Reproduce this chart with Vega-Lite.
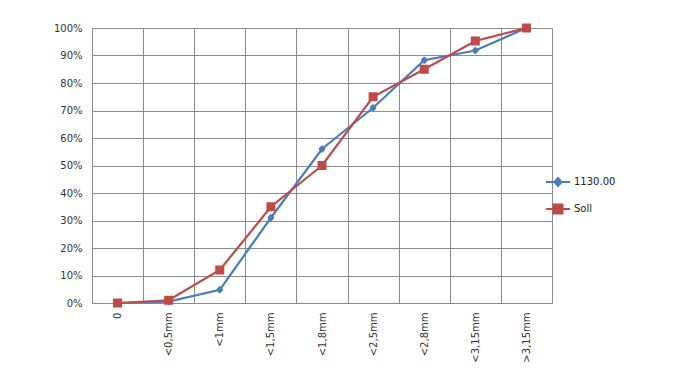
{
  "$schema": "https://vega.github.io/schema/vega-lite/v6.json",
  "width": 460,
  "height": 275,
  "autosize": "none",
  "padding": {"left": 92, "top": 28, "right": 142, "bottom": 72},
  "background": "white",
  "config": {
    "font": "DejaVu Sans",
    "view": {"stroke": "#8c8c8c", "strokeWidth": 1},
    "axis": {"labelFont": "DejaVu Sans", "labelColor": "#333333", "labelFontSize": 10}
  },
  "data": {
    "values": [
      {"cat": "0", "series": "1130.00", "v": 0},
      {"cat": "<0,5mm", "series": "1130.00", "v": 0.5},
      {"cat": "<1mm", "series": "1130.00", "v": 4.8},
      {"cat": "<1,5mm", "series": "1130.00", "v": 31},
      {"cat": "<1,8mm", "series": "1130.00", "v": 56},
      {"cat": "<2,5mm", "series": "1130.00", "v": 71},
      {"cat": "<2,8mm", "series": "1130.00", "v": 88.3},
      {"cat": "<3,15mm", "series": "1130.00", "v": 91.8},
      {"cat": ">3,15mm", "series": "1130.00", "v": 100},
      {"cat": "0", "series": "Soll", "v": 0},
      {"cat": "<0,5mm", "series": "Soll", "v": 1},
      {"cat": "<1mm", "series": "Soll", "v": 12},
      {"cat": "<1,5mm", "series": "Soll", "v": 35},
      {"cat": "<1,8mm", "series": "Soll", "v": 50},
      {"cat": "<2,5mm", "series": "Soll", "v": 75},
      {"cat": "<2,8mm", "series": "Soll", "v": 85},
      {"cat": "<3,15mm", "series": "Soll", "v": 95.3},
      {"cat": ">3,15mm", "series": "Soll", "v": 100}
    ]
  },
  "encoding": {
    "x": {
      "field": "cat",
      "type": "ordinal",
      "sort": null,
      "scale": {"paddingInner": 0, "paddingOuter": 0},
      "axis": {
        "title": null,
        "labelAngle": -90,
        "labelPadding": 9,
        "tickBand": "extent",
        "ticks": false,
        "grid": true,
        "gridColor": "#8c8c8c",
        "gridOpacity": 1,
        "domainColor": "#8c8c8c"
      }
    },
    "y": {
      "field": "v",
      "type": "quantitative",
      "scale": {"domain": [0, 100], "nice": false},
      "axis": {
        "title": null,
        "values": [0, 10, 20, 30, 40, 50, 60, 70, 80, 90, 100],
        "labelExpr": "datum.value + '%'",
        "ticks": false,
        "labelPadding": 10,
        "grid": true,
        "gridColor": "#8c8c8c",
        "gridOpacity": 1,
        "domainColor": "#8c8c8c"
      }
    },
    "color": {
      "field": "series",
      "type": "nominal",
      "scale": {"domain": ["1130.00", "Soll"], "range": ["#4a7ebb", "#be4b48"]},
      "legend": {
        "title": null,
        "orient": "none",
        "legendX": 460,
        "legendY": 148,
        "symbolSize": 100,
        "symbolStrokeWidth": 2,
        "labelOffset": 10,
        "rowPadding": 10,
        "labelFontSize": 10,
        "labelColor": "#222222",
        "labelFont": "DejaVu Sans",
        "encode": {
          "symbols": {
            "update": {
              "stroke": {"scale": "color", "field": "value"},
              "strokeWidth": {"value": 2}
            }
          }
        }
      }
    },
    "shape": {
      "field": "series",
      "type": "nominal",
      "scale": {
        "domain": ["1130.00", "Soll"],
        "range": [
          "M-2.4,0H2.4M0,-0.8L0.7,0L0,0.8L-0.7,0Z",
          "M-2.4,0H2.4M-0.9,-0.9H0.9V0.9H-0.9Z"
        ]
      },
      "legend": {
        "title": null,
        "orient": "none",
        "legendX": 460,
        "legendY": 148,
        "symbolSize": 100,
        "labelOffset": 10,
        "rowPadding": 10,
        "labelFontSize": 10,
        "labelColor": "#222222",
        "labelFont": "DejaVu Sans",
        "encode": {
          "symbols": {
            "update": {
              "stroke": {"scale": "color", "field": "value"},
              "strokeWidth": {"value": 2}
            }
          }
        }
      }
    }
  },
  "layer": [
    {"mark": {"type": "line", "strokeWidth": 2.2}, "encoding": {"shape": {"value": null}}},
    {"mark": {"type": "point", "filled": true, "size": 100, "opacity": 1}}
  ]
}
